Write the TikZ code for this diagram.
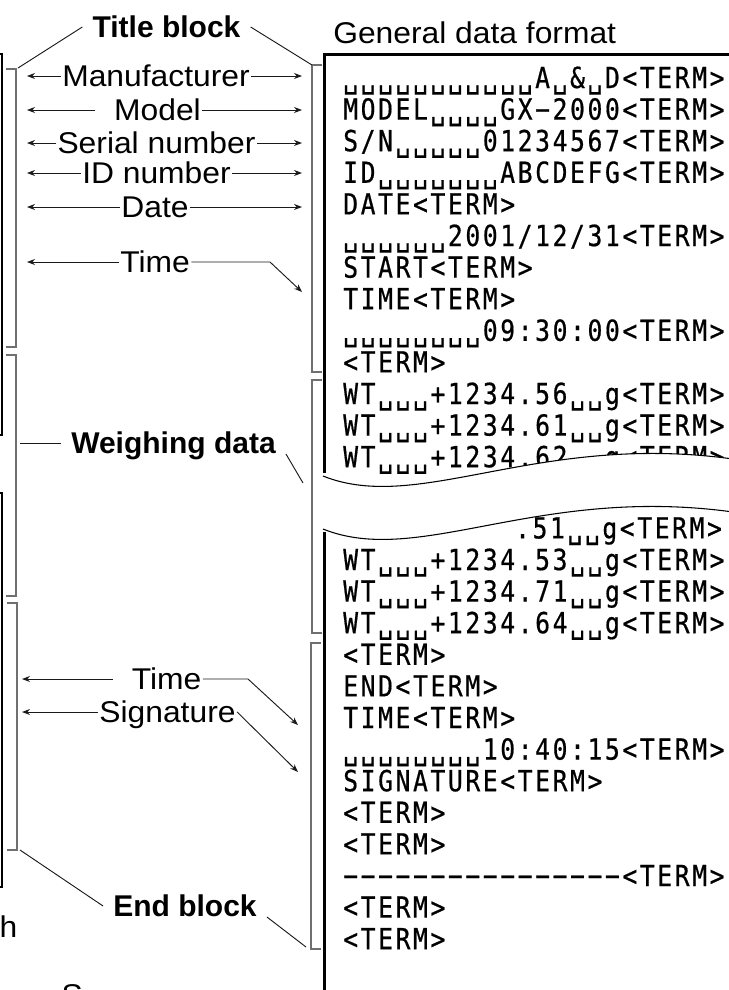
\documentclass[tikz,border=0pt]{standalone}
\usepackage{fontspec}
\setmainfont{Liberation Sans}
\newfontfamily\labelfont[FakeStretch=1.06]{Liberation Sans}
\newfontfamily\datafont[FakeStretch=0.85,LetterSpace=9,FakeBold=0.6]{DejaVu Sans Mono}
\usetikzlibrary{arrows.meta}
\definecolor{ink}{HTML}{1A1A1A}
\definecolor{rule}{HTML}{707070}
\tikzset{
  lbl/.style={inner xsep=1pt,inner ysep=0pt,text height=16.1pt,text depth=0pt,font=\labelfont\fontsize{22.5pt}{27pt}\selectfont},
  head/.style={lbl,inner xsep=7.5pt,font=\rmfamily\fontsize{22.5pt}{27pt}\selectfont\bfseries},
  arr/.style={draw=ink,line width=0.7pt,-{Stealth[length=6pt,width=4.5pt]}},
  lead/.style={draw=ink,line width=0.7pt},
  brk/.style={draw=rule,line width=0.9pt},
  rec/.style={anchor=base west,inner sep=0pt,font=\datafont\fontsize{21.75pt}{26pt}\selectfont},
  wave/.style={draw=black,line width=0.8pt}
}

\begin{document}
\begin{tikzpicture}[x=0.75pt,y=-0.75pt]
\useasboundingbox (0,0) rectangle (729,990);

% records of the data format
\foreach \txt [count=\i from 0] in {␣␣␣␣␣␣␣␣␣␣␣A␣\&␣D<TERM>,MODEL␣␣␣␣GX−2000<TERM>,S/N␣␣␣␣␣01234567<TERM>,ID␣␣␣␣␣␣␣ABCDEFG<TERM>,DATE<TERM>,␣␣␣␣␣␣2001/12/31<TERM>,START<TERM>,TIME<TERM>,␣␣␣␣␣␣␣␣09:30:00<TERM>,<TERM>,WT␣␣␣+1234.56␣␣g<TERM>,WT␣␣␣+1234.61␣␣g<TERM>,WT␣␣␣+1234.62␣␣g<TERM>}
  \node[rec] (up\i) at (343,88+31.6*\i) {\txt};
\foreach \txt [count=\i from 0] in {\phantom{WT␣␣␣+1234}.51␣␣g<TERM>,WT␣␣␣+1234.53␣␣g<TERM>,WT␣␣␣+1234.71␣␣g<TERM>,WT␣␣␣+1234.64␣␣g<TERM>,<TERM>,END<TERM>,TIME<TERM>,␣␣␣␣␣␣␣␣10:40:15<TERM>,SIGNATURE<TERM>,<TERM>,<TERM>,−−−−−−−−−−−−−−−−<TERM>,<TERM>,<TERM>}
  \node[rec] (lo\i) at (343,538.4+31.6*\i) {\txt};

% torn part
\fill[white] (323,476) .. controls (420,515) and (540,430) .. (740,460) -- (740,513) .. controls (540,483) and (420,568) .. (323,529) -- cycle;
\draw[wave] (323,476) .. controls (420,515) and (540,430) .. (740,460);
\draw[wave] (323,529) .. controls (420,568) and (540,483) .. (740,513);

% frame
\draw[line width=2.25pt] (324.5,473) -- (324.5,54.5) -- (760,54.5);
\draw[line width=2.25pt] (324.5,532) -- (324.5,1000);
\draw[line width=0.9pt] (-20,54) -- (2,54) -- (2,435) -- (-20,435);
\draw[line width=0.9pt] (-20,493) -- (2,493) -- (2,887) -- (-20,887);

% brackets
\draw[brk] (6,69) -| (16,347) -- (6,347);
\draw[brk] (6,355) -| (16,596) -- (6,596);
\draw[brk] (7,603) -| (17,850) -- (7,850);
\draw[brk] (322,65) -| (312,372) -- (322,372);
\draw[brk] (322,380) -| (312,633) -- (322,633);
\draw[brk] (321,643) -| (311,949) -- (321,949);

\coordinate (lb1) at (18,68);
\coordinate (rb1) at (312,65);
\coordinate (lb3) at (20,850);
\coordinate (rb3) at (306,947);
\coordinate (lx) at (27,0);
\coordinate (lx2) at (22,0);
\coordinate (rx) at (302,0);
\coordinate (wdl) at (20,0);
\coordinate (wdr) at (303,483);
\coordinate (t1k) at (270,0);
\coordinate (t1tip) at (302,292);
\coordinate (t2k) at (248,0);
\coordinate (t2tip) at (298,725);
\coordinate (sgtip) at (298,772);

\node[lbl,anchor=base west,inner xsep=0pt] (gdf) at (333,43) {General data format};
\node[head] (tb) at (166.5,27) {Title block};
\node[head] (wd) at (173.5,443) {Weighing data};
\node[head] (eb) at (185,906) {End block};

\node[lbl] (mf) at (156,76) {Manufacturer};
\node[lbl] (md) at (157.5,110) {Model};
\node[lbl] (sn) at (156.5,143) {Serial number};
\node[lbl] (id) at (156.5,173) {ID number};
\node[lbl] (dt) at (155,207) {Date};
\node[lbl] (tm) at (155,262) {Time};
\node[lbl] (tme) at (166.5,679) {Time};
\node[lbl] (sg) at (167.5,712) {Signature};

\node[lbl,anchor=base west] (hh) at (-2,937) {h};
\node[lbl,anchor=base west] (ss) at (60,1005) {S};

\draw[lead] (tb.west) -- (lb1);
\draw[lead] (tb.east) -- (rb1);
\draw[lead] (wd.west) -- (wd.west -| wdl);
\draw[lead] (wd.south east) -- (wdr);
\draw[lead] (eb.west) -- (lb3);
\draw[lead] (eb.south east) -- (rb3);

\foreach \n in {mf,sn,id,dt,tm}
  \draw[arr] (\n.west) -- (\n.west -| lx);
\foreach \n in {mf,md,sn,id,dt}
  \draw[arr] (\n.east) -- (\n.east -| rx);
\draw[arr,shorten <=13pt] (md.west) -- (md.west -| lx);
\draw[arr] (tm.east) -- (tm.east -| t1k) -- (t1tip);
\draw[arr,shorten <=13pt] (tme.west) -- (tme.west -| lx2);
\draw[arr] (tme.east) -- (tme.east -| t2k) -- (t2tip);
\draw[arr] (sg.west) -- (sg.west -| lx2);
\draw[arr] (sg.east) -- (sgtip);
\end{tikzpicture}
\end{document}
